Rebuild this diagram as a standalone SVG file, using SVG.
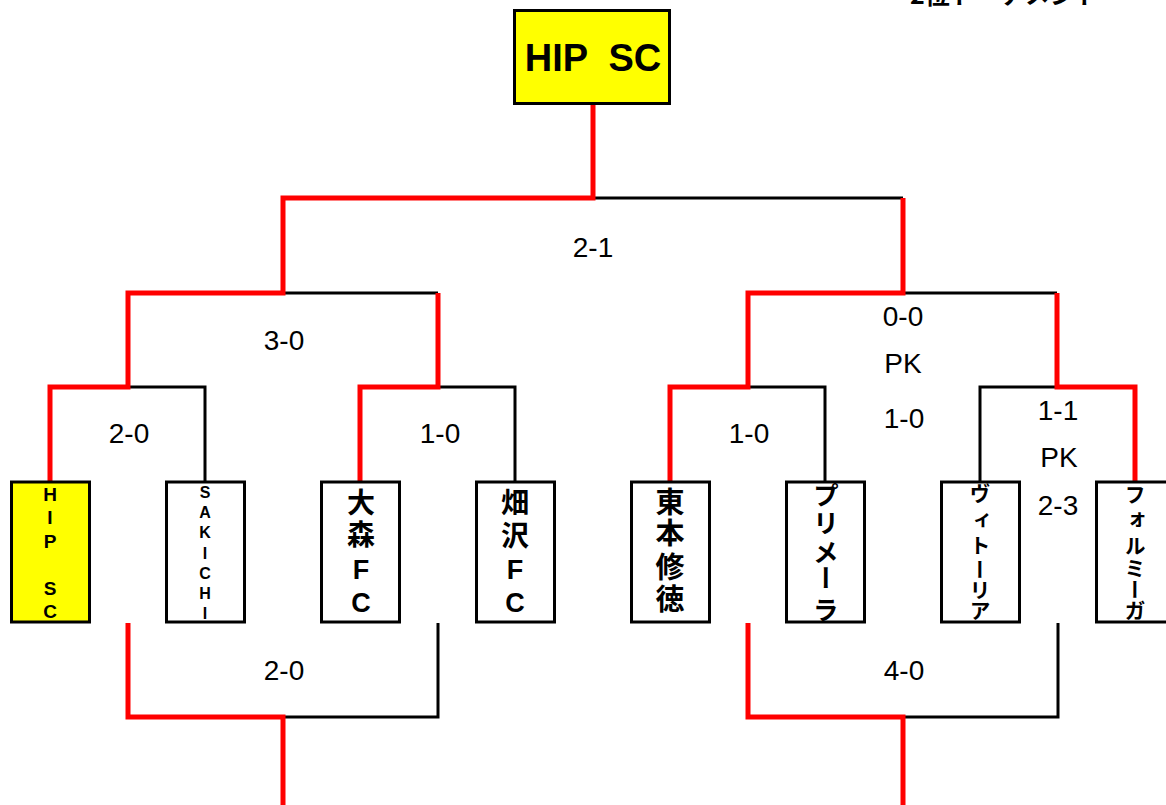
<svg xmlns="http://www.w3.org/2000/svg" width="1166" height="805" viewBox="0 0 1166 805">
<style>
.box{stroke:#000;stroke-width:3;fill:#fff}
.win{fill:#ffff00}
.bl{fill:none;stroke:#000;stroke-width:3;stroke-linejoin:miter}
.rd{fill:none;stroke:#ff0000;stroke-width:5;stroke-linejoin:miter}
.sc{font-family:"Liberation Sans",Arial,sans-serif;font-size:28px;fill:#000;text-anchor:middle}
.lt{font-family:"Liberation Sans",Arial,sans-serif;font-weight:bold;fill:#000;text-anchor:middle;dominant-baseline:central}
.vt{font-family:"Noto Sans CJK JP","Noto Sans CJK SC",sans-serif;font-weight:bold;fill:#000;writing-mode:vertical-rl;text-orientation:upright;text-anchor:start}
.la{font-family:"Liberation Sans",Arial,sans-serif;font-size:27px}
</style>
<rect width="1166" height="805" fill="#fff"/>
<text x="910" y="4" font-family="Noto Sans CJK JP, sans-serif" font-weight="bold" font-size="25" fill="#000">2位トーナメント</text>
<g id="connectors">
<path class="bl" d="M205 482V387H128M438 387H515V482M283 293H438M593 198H903M825 482V387H748M903 293H1057M980 482V387H1057M283 717H438V623M903 717H1058V623"/>
<path class="rd" d="M50 482V387H128V293H283V198H593V104M360 482V387H438V293M670 482V387H748V293H903V198M1135 482V387H1057V293M128 623V717H283V805M748 623V717H903V805"/>
</g>
<g id="scores">
<text class="sc" x="593" y="257">2-1</text>
<text class="sc" x="284" y="350">3-0</text>
<text class="sc" x="129" y="443">2-0</text>
<text class="sc" x="440" y="443">1-0</text>
<text class="sc" x="749" y="443">1-0</text>
<text class="sc" x="903" y="326">0-0</text>
<text class="sc" x="903" y="373">PK</text>
<text class="sc" x="904" y="428">1-0</text>
<text class="sc" x="1058" y="420">1-1</text>
<text class="sc" x="1059" y="467">PK</text>
<text class="sc" x="1058" y="515">2-3</text>
<text class="sc" x="284" y="680">2-0</text>
<text class="sc" x="904" y="680">4-0</text>
</g>
<g id="champion">
<rect class="box win" x="514.5" y="10.5" width="155" height="93"/>
<text x="593" y="71" font-family="Liberation Sans, Arial, sans-serif" font-weight="bold" font-size="38" text-anchor="middle" xml:space="preserve">HIP  SC</text>
</g>
<g id="team-hip">
<rect class="box win" x="11.5" y="482" width="78" height="140"/>
<text class="lt" font-size="19"><tspan x="50" y="494">H</tspan><tspan x="50" y="517">I</tspan><tspan x="50" y="541">P</tspan><tspan x="50" y="588">S</tspan><tspan x="50" y="611">C</tspan></text>
</g>
<g id="team-sakichi">
<rect class="box" x="166.5" y="482" width="78" height="140"/>
<text class="lt" font-size="16"><tspan x="205" y="492">S</tspan><tspan x="205" y="512">A</tspan><tspan x="205" y="532">K</tspan><tspan x="205" y="552.5">I</tspan><tspan x="205" y="572.5">C</tspan><tspan x="205" y="592.5">H</tspan><tspan x="205" y="612.5">I</tspan></text>
</g>
<g id="team-omori">
<rect class="box" x="321.5" y="482" width="78" height="140"/>
<text class="vt" font-size="28" x="361" y="488 520">大森<tspan class="la" y="554.5 587.5">FC</tspan></text>
</g>
<g id="team-hatazawa">
<rect class="box" x="476.5" y="482" width="78" height="140"/>
<text class="vt" font-size="28" x="515" y="488 521">畑沢<tspan class="la" y="554.5 587.5">FC</tspan></text>
</g>
<g id="team-higashimoto">
<rect class="box" x="631.5" y="482" width="78" height="140"/>
<text class="vt" font-size="29" x="670" y="487.5 518.5 552.5 584.5">東本修徳</text>
</g>
<g id="team-primera">
<rect class="box" x="786.5" y="482" width="78" height="140"/>
<text class="vt" font-size="26" x="826" y="482 510.5 539 565 597">プリメーラ</text>
</g>
<g id="team-vitoria">
<rect class="box" x="941.5" y="482" width="78" height="140"/>
<text class="vt" font-size="21" x="980" y="483 509.5 534.5 558.5 579.5 599.5">ヴィトーリア</text>
</g>
<g id="team-formiga">
<rect class="box" x="1096.5" y="482" width="78" height="140"/>
<text class="vt" font-size="21" x="1135" y="483.5 508.5 534.5 557.5 578.5 599.5">フォルミーガ</text>
</g>
</svg>
